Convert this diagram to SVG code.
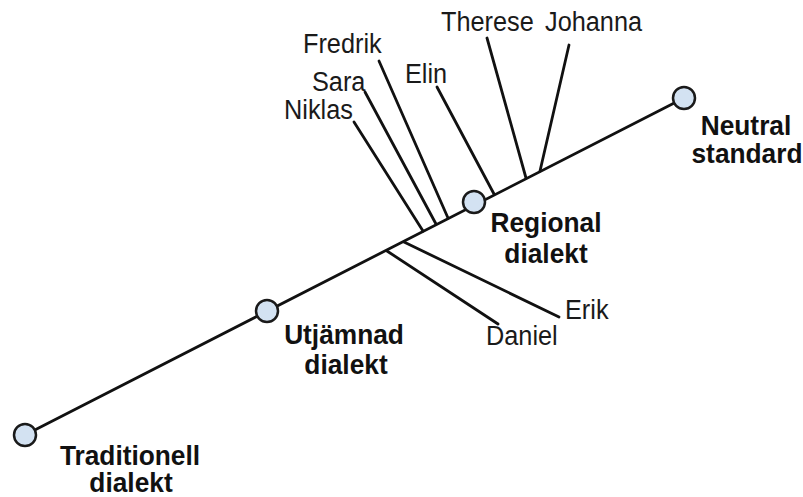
<svg xmlns="http://www.w3.org/2000/svg" width="803" height="497" viewBox="0 0 803 497">
<style>
.ln{stroke:#111;stroke-width:2.8;fill:none;stroke-linecap:round}
.nd{fill:#d3e2f2;stroke:#1a1a1a;stroke-width:2.5}
.lb{font-family:"Liberation Sans",Arial,sans-serif;font-size:25.3px;fill:#1a1a1a}
.bl{font-family:"Liberation Sans",Arial,sans-serif;font-size:26.3px;font-weight:bold;fill:#111;text-anchor:middle}
</style>
<rect width="803" height="497" fill="#fff"/>
<g id="connectors">
<line class="ln" x1="25" y1="435" x2="684" y2="98"/>
<line class="ln" x1="354" y1="122" x2="423" y2="231"/>
<line class="ln" x1="365" y1="92" x2="436" y2="224"/>
<line class="ln" x1="379" y1="61" x2="448" y2="218"/>
<line class="ln" x1="437" y1="87" x2="494" y2="194"/>
<line class="ln" x1="487" y1="38" x2="526" y2="178"/>
<line class="ln" x1="569" y1="45" x2="540" y2="171"/>
<line class="ln" x1="404" y1="242" x2="559" y2="317"/>
<line class="ln" x1="387" y1="251" x2="498" y2="324"/>
</g>
<g id="traditionell"><circle class="nd" cx="25" cy="435" r="11"/><text class="bl" transform="translate(130,465) scale(1,1.07)">Traditionell</text><text class="bl" transform="translate(131,492) scale(1,1.05)">dialekt</text></g>
<g id="utjamnad"><circle class="nd" cx="267" cy="311" r="11"/><text class="bl" transform="translate(344,344) scale(1,1.07)">Utjämnad</text><text class="bl" transform="translate(346,374) scale(1,1.07)">dialekt</text></g>
<g id="regional"><circle class="nd" cx="474" cy="202" r="11"/><text class="bl" transform="translate(546,232) scale(1,1.07)">Regional</text><text class="bl" transform="translate(546,263) scale(1,1.07)">dialekt</text></g>
<g id="neutral"><circle class="nd" cx="684" cy="98" r="11"/><text class="bl" transform="translate(746,135) scale(1,1.07)">Neutral</text><text class="bl" transform="translate(747,163) scale(1,1.07)">standard</text></g>
<g id="niklas"><text class="lb" transform="translate(284,119) scale(1,1.06)">Niklas</text></g>
<g id="sara"><text class="lb" transform="translate(312,91) scale(1,1.06)">Sara</text></g>
<g id="fredrik"><text class="lb" transform="translate(303,53) scale(1,1.06)">Fredrik</text></g>
<g id="elin"><text class="lb" transform="translate(405,83) scale(1,1.06)">Elin</text></g>
<g id="therese"><text class="lb" transform="translate(441,31) scale(1,1.06)">Therese</text></g>
<g id="johanna"><text class="lb" transform="translate(545,31) scale(1,1.06)">Johanna</text></g>
<g id="erik"><text class="lb" transform="translate(565,319) scale(1,1.06)">Erik</text></g>
<g id="daniel"><text class="lb" transform="translate(486,345) scale(1,1.06)">Daniel</text></g>
</svg>
